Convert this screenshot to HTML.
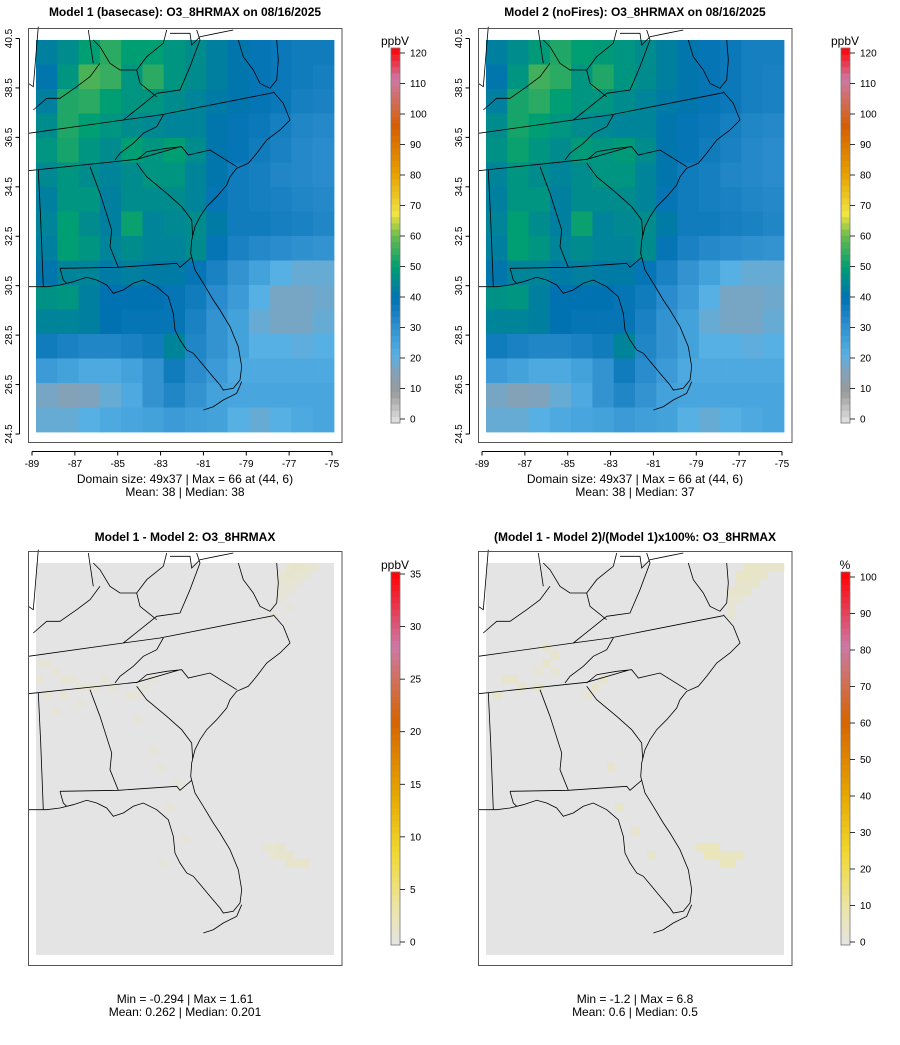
<!DOCTYPE html>
<html><head><meta charset="utf-8"><style>
html,body{margin:0;padding:0;background:#fff}
svg{display:block;font-family:"Liberation Sans",sans-serif}
</style></head><body>
<svg id="root" width="900" height="1045" viewBox="0 0 900 1045"></svg>
<script>
// ---- data ----
const lonTicks = [-89,-87,-85,-83,-81,-79,-77,-75];
const latTicks = [24.5,26.5,28.5,30.5,32.5,34.5,36.5,38.5,40.5];
const concTicks = [0,10,20,30,40,50,60,70,80,90,100,110,120];
const diffTicks = [0,5,10,15,20,25,30,35];
const pctTicks = [0,10,20,30,40,50,60,70,80,90,100];
// coarse O3 grid (ppbV), rows north->south, cols west->east
const o3Model1 = [
[43,46,50,54,50,50,48,46,43,41,39,38,37,37],
[41,48,57,55,48,54,48,46,43,41,39,38,37,36],
[43,53,54,50,48,48,46,44,42,41,39,38,36,35],
[46,53,50,48,46,45,44,44,41,39,38,36,34,33],
[48,52,48,46,50,48,50,46,41,39,37,35,33,32],
[45,48,46,44,46,48,48,44,41,37,36,34,33,32],
[43,48,48,43,46,46,46,44,39,37,36,35,34,33],
[44,50,46,43,51,44,45,46,42,37,37,36,35,34],
[43,50,48,44,46,44,44,46,39,35,33,32,31,30],
[41,44,44,42,43,42,42,39,35,30,26,22,20,20],
[47,48,43,40,40,40,39,37,32,28,22,18,18,19],
[44,44,43,40,39,39,39,35,30,26,20,18,18,20],
[37,35,34,34,35,37,44,34,30,26,22,22,21,22],
[28,26,24,24,26,30,37,32,28,24,24,24,24,24],
[18,16,17,20,24,30,34,30,26,25,25,25,25,25],
[20,20,22,24,25,26,28,27,26,22,20,22,24,25]];
const o3Model2 = [
[43,46,49,53,50,49,48,46,43,41,39,38,36,36],
[41,48,56,54,48,53,48,46,43,41,39,38,36,35],
[43,52,54,50,48,48,46,44,42,41,39,38,36,35],
[46,52,50,48,46,45,44,44,41,39,38,36,34,33],
[47,51,48,46,49,48,49,46,41,39,37,35,33,32],
[44,48,46,44,46,48,48,44,41,37,36,34,33,32],
[43,48,48,43,46,46,46,44,39,37,36,35,34,33],
[44,50,46,43,51,44,45,46,42,37,37,36,35,34],
[43,50,48,44,46,44,44,46,39,35,33,32,31,30],
[41,44,44,42,43,42,42,39,35,30,26,22,20,20],
[47,48,43,40,40,40,39,37,32,28,22,18,18,19],
[44,44,43,40,39,39,39,35,30,26,20,18,18,20],
[37,35,34,34,35,37,44,34,30,26,22,22,21,22],
[28,26,24,24,26,30,37,32,28,24,24,24,24,24],
[18,16,17,20,24,30,34,30,26,25,25,25,25,25],
[20,20,22,24,25,26,28,27,26,22,20,22,24,25]];
// difference patches (fine grid 37 cols x 49 rows: col,row,value)
const diffCells = [[31,0,1.2],[32,0,1.4],[33,0,1.2],[34,0,1.1],[30,1,1.0],[31,1,1.3],[32,1,1.1],[33,1,1.0],[30,2,0.9],[31,2,1.0],[32,2,0.9],[30,3,0.8],[31,3,0.9],[30,4,0.8],[31,5,0.7],[29,6,0.7],
[0,12,0.8],[1,12,0.8],[2,13,0.8],[0,14,0.7],[3,14,0.9],[4,14,0.8],[5,15,0.9],[6,15,0.8],[7,15,0.8],[8,14,0.8],[9,15,0.8],[1,16,0.8],[3,16,0.8],[11,16,0.8],[12,16,0.7],[13,15,0.7],[14,14,0.7],[2,18,0.7],[5,17,0.8],
[12,19,0.7],[14,23,0.8],[15,25,0.8],[16,30,0.7],[18,34,0.7],[15,37,0.6],[17,27,0.6],
[28,35,1.0],[29,35,1.2],[30,35,1.3],[29,36,1.2],[30,36,1.4],[31,36,1.3],[32,37,1.6],[33,37,1.5],[31,37,1.3]];
const pctCells = [[32,0,5],[33,0,5],[34,0,4],[35,0,4],[36,0,4],[31,1,5],[32,1,5],[33,1,4],[34,1,4],[31,2,4],[32,2,4],[33,2,4],[30,3,4],[31,3,4],[32,3,4],[30,4,3],[31,4,3],[30,5,3],[30,6,3],
[7,10,4],[8,11,4],[7,12,4],[6,13,3],[8,13,3],[2,14,4],[3,14,4],[4,15,4],[1,16,4],[6,15,4],[13,15,4],[14,14,4],[12,16,3],
[15,25,4],[16,30,4],[18,33,4],[20,36,4],
[26,35,6],[27,35,7],[28,35,7],[27,36,7],[28,36,7],[29,36,6],[30,36,6],[31,36,6],[29,37,7],[30,37,7]];

// ---- helpers ----
const NS="http://www.w3.org/2000/svg";
const root=document.getElementById('root');
function mk(tag,attrs,parent){const e=document.createElementNS(NS,tag);for(const k in attrs)e.setAttribute(k,attrs[k]);(parent||root).appendChild(e);return e;}
function hex(c){return [parseInt(c.slice(1,3),16),parseInt(c.slice(3,5),16),parseInt(c.slice(5,7),16)];}
function ramp(stops,t){t=Math.max(0,Math.min(1,t));for(let i=1;i<stops.length;i++){if(t<=stops[i][0]){const a=stops[i-1],b=stops[i];const f=(t-a[0])/(b[0]-a[0]||1);const ca=hex(a[1]),cb=hex(b[1]);return 'rgb('+ca.map((v,j)=>Math.round(v+(cb[j]-v)*f)).join(',')+')';}}return stops[stops.length-1][1];}
const concStops=[[0,'#e4e4e4'],[10/120,'#9a9a9a'],[17/120,'#7fa3bd'],[22/120,'#56b0e4'],[32/120,'#2a8ccc'],[40/120,'#0072b2'],[50/120,'#009e73'],[60/120,'#6cbb4c'],[67/120,'#f0e442'],[80/120,'#e69f00'],[95/120,'#d55e00'],[110/120,'#cc79a7'],[1,'#ff0000']];
const diffStops=[[0,'#e4e4e4'],[0.1,'#ece5a8'],[0.25,'#f0d830'],[0.4,'#e6a800'],[0.6,'#d56400'],[0.8,'#cc79a7'],[1,'#ff0000']];

const panels=[
 {dx:0,dy:0,title:'Model 1 (basecase): O3_8HRMAX on 08/16/2025',kind:'conc',grid:o3Model1,cap:['Domain size: 49x37 | Max = 66 at (44, 6)','Mean: 38 |  Median: 38'],capY:[483,496],unit:'ppbV',ticks:concTicks,max:120,name:'model1'},
 {dx:450,dy:0,title:'Model 2 (noFires): O3_8HRMAX on 08/16/2025',kind:'conc',grid:o3Model2,cap:['Domain size: 49x37 | Max = 66 at (44, 6)','Mean: 38 |  Median: 37'],capY:[483,496],unit:'ppbV',ticks:concTicks,max:120,name:'model2'},
 {dx:0,dy:523,title:'Model 1 - Model 2: O3_8HRMAX',kind:'diff',cells:diffCells,cap:['Min = -0.294 | Max = 1.61','Mean: 0.262 |  Median: 0.201'],capY:[1003,1016],unit:'ppbV',ticks:diffTicks,max:35,name:'difference'},
 {dx:450,dy:523,title:'(Model 1 - Model 2)/(Model 1)x100%: O3_8HRMAX',kind:'diff',cells:pctCells,cap:['Min = -1.2 | Max = 6.8','Mean: 0.6 |  Median: 0.5'],capY:[1003,1016],unit:'%',ticks:pctTicks,max:100,name:'percent-difference'}];

const RX0=36,RX1=334,RY0=40,RY1=432;
const lonX=v=>32+(v+89)*(300/14);
const latY=v=>434-(v-24.5)*(395.5/16);

const lines=[
 [[280,60],[300,80],[330,130],[360,150],[410,150],[440,110],[490,70],[500,30]],
 [[715,60],[730,110],[760,150],[780,190],[810,205],[830,180],[835,120],[830,60]],
 [[820,215],[850,250],[870,300],[840,330],[800,360],[770,400],[745,430],[710,445],[690,470],[680,495],[650,530],[620,560],[600,590],[585,620],[575,660],[572,700],[585,750],[610,790],[640,840],[660,870],[690,920],[715,980],[725,1040],[720,1080],[700,1105],[670,1110],[660,1095],[630,1060],[605,1030],[580,1000],[560,990],[540,960],[525,930],[520,880],[505,830],[470,800],[430,780],[400,790],[370,810],[340,820],[320,795],[290,780],[260,772],[220,785],[180,795],[140,800],[100,800],[85,800]],
 [[610,1170],[640,1160],[670,1140],[710,1120],[725,1085]],
 [[100,270],[140,235],[180,235],[230,200],[270,170],[300,130]],
 [[85,190],[100,200],[115,20]],
 [[85,340],[370,300],[480,285],[820,218]],
 [[370,300],[420,260],[470,220],[540,210],[570,140],[600,60],[590,30]],
 [[410,150],[420,190],[470,230]],
 [[490,285],[470,320],[430,340],[400,370],[360,400],[345,420]],
 [[85,452],[410,418],[540,380]],
 [[410,420],[440,395],[500,385],[545,380],[565,405],[630,390],[710,440]],
 [[410,430],[440,470],[500,520],[545,560],[575,600],[578,650]],
 [[270,440],[300,520],[335,630],[330,680],[355,742]],
 [[180,745],[355,742],[530,730],[540,742],[575,712]],
 [[180,745],[190,780],[200,790]],
 [[115,450],[122,600],[130,800]],
 [[265,30],[280,130]],[[510,40],[570,40],[575,75],[600,50],[650,40],[700,30]]
];
const mapPath=lines.map(l=>'M'+l.map(p=>(p[0]/3).toFixed(1)+','+(20+p[1]/3).toFixed(1)).join('L')).join(' ');

panels.forEach((P,pi)=>{
 const g=mk('g',{transform:`translate(${P.dx},${P.dy})`});
 
 
 const t=mk('text',{x:185,y:P.dy?18:16,'text-anchor':'middle','font-size':12,'font-weight':'bold'},g);
 t.textContent=P.title;
 
 
 const rg=mk('g',{},g);
 
 
 if(P.kind==='conc'){
  const rows=P.grid.length,cols=P.grid[0].length;
  const cw=(RX1-RX0)/cols,ch=(RY1-RY0)/rows;
  P.grid.forEach((row,r)=>row.forEach((v,c)=>{
   const cell=mk('rect',{x:(RX0+c*cw).toFixed(2),y:(RY0+r*ch).toFixed(2),width:(cw+0.4).toFixed(2),height:(ch+0.4).toFixed(2),fill:ramp(concStops,v/P.max)},rg);
   
   
  }));
 } else {
  mk('rect',{x:RX0,y:RY0,width:RX1-RX0,height:RY1-RY0,fill:'#e4e4e4'},rg);
  const cw=(RX1-RX0)/37,ch=(RY1-RY0)/49;
  P.cells.forEach(([c,r,v])=>{
   const cell=mk('rect',{x:(RX0+c*cw).toFixed(2),y:(RY0+r*ch).toFixed(2),width:(cw+0.3).toFixed(2),height:(ch+0.3).toFixed(2),fill:ramp(diffStops,v/P.max)},rg);
   
   
  });
 }
 const mp=mk('path',{d:mapPath,fill:'none',stroke:'#000','stroke-width':0.8},g);
 
 
 const fr=mk('rect',{x:28.5,y:28.5,width:313.5,height:414,fill:'none',stroke:'#555','stroke-width':1},g);
 
 
 if(P.kind==='conc'){
  const ax=mk('g',{'font-size':10},g);
  
  
  mk('line',{x1:lonX(-89),x2:lonX(-75),y1:451.5,y2:451.5,stroke:'#000'},ax);
  lonTicks.forEach(v=>{mk('line',{x1:lonX(v),x2:lonX(v),y1:451.5,y2:455.5,stroke:'#000'},ax);
   const tx=mk('text',{x:lonX(v),y:467,'text-anchor':'middle'},ax);tx.textContent=v;
   });
  mk('line',{x1:19.5,x2:19.5,y1:latY(24.5),y2:latY(40.5),stroke:'#000'},ax);
  latTicks.forEach(v=>{mk('line',{x1:15.5,x2:19.5,y1:latY(v),y2:latY(v),stroke:'#000'},ax);
   const tx=mk('text',{x:12,y:latY(v),'text-anchor':'middle',transform:`rotate(-90 12 ${latY(v)})`},ax);tx.textContent=v.toFixed(1);
   });
 }
 P.cap.forEach((s,i)=>{const tx=mk('text',{x:185,y:P.capY[i]-P.dy,'text-anchor':'middle','font-size':12},g);tx.textContent=s;
  });
 const cb=mk('g',{},g);
 
 
 const cbTop=P.dy?572-P.dy:48, cbBot=P.dy?945-P.dy:423;
 const v0=P.dy?942-P.dy:419, vTop=P.dy?(P.max===35?574:577)-P.dy:53;
 const vy=v=>v0-(v/P.max)*(v0-vTop);
 const cbx=391;
 const N=60;
 for(let i=0;i<N;i++){const y1=cbBot-(i+1)*(cbBot-cbTop)/N;
  const col=P.kind==='conc'?ramp(concStops,(i+0.5)/N):ramp(diffStops,(i+0.5)/N);
  mk('rect',{x:cbx,y:y1.toFixed(2),width:9,height:((cbBot-cbTop)/N+0.4).toFixed(2),fill:col},cb);}
 mk('rect',{x:cbx,y:cbTop,width:9,height:cbBot-cbTop,fill:'none',stroke:'#777','stroke-width':0.8},cb);
 P.ticks.forEach(v=>{mk('line',{x1:cbx+9,x2:cbx+14,y1:vy(v),y2:vy(v),stroke:'#000','stroke-width':0.8},cb);
  const tx=mk('text',{x:cbx+19,y:vy(v)+3.5,'font-size':10},cb);tx.textContent=v;
  });
 const ut=mk('text',{x:cbx+4,y:cbTop-3,'text-anchor':'middle','font-size':12},cb);ut.textContent=P.unit;
 
});
</script>
</body></html>
